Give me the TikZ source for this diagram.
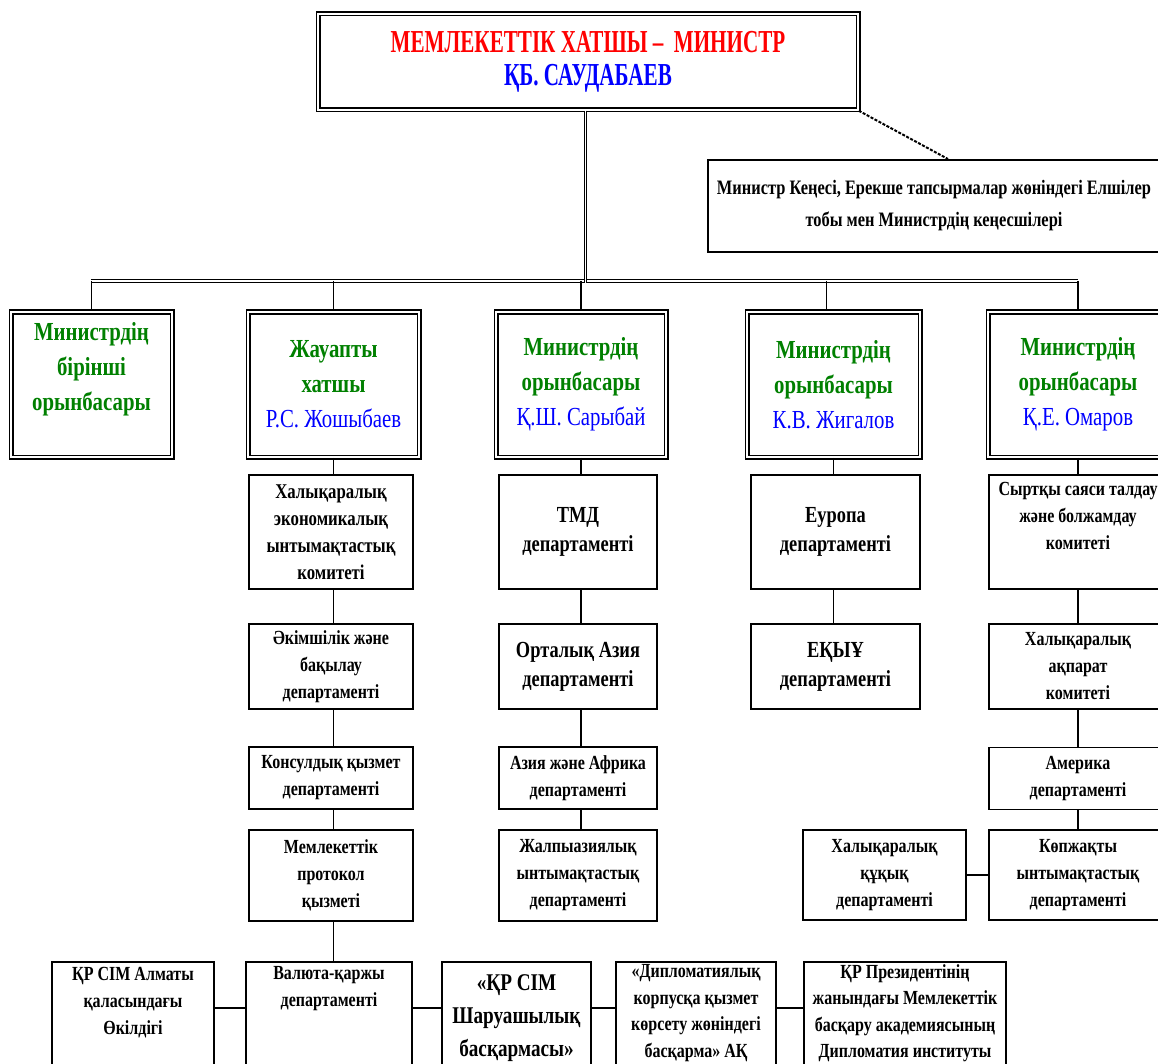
\documentclass[tikz,border=0pt]{standalone}
\usepackage{fontspec}
\setmainfont{Liberation Serif}[FakeStretch=0.8]
\newfontfamily\condfont{Liberation Serif}[FakeStretch=0.66]
\usetikzlibrary{calc}
\definecolor{tgreen}{RGB}{0,128,0}
\definecolor{tblue}{RGB}{0,0,255}
\definecolor{tred}{RGB}{255,0,0}
\begin{document}
\begin{tikzpicture}[x=1pt,y=-1pt,
  dbox/.style={draw, double, line width=1.5pt, double distance=2pt, fill=white, inner sep=0pt},
  sbox/.style={draw, line width=1.9pt, fill=white, inner sep=0pt},
  conn/.style={line width=1.9pt},
  dconn/.style={double, line width=1.4pt, double distance=1.4pt},
  trunk/.style={double, line width=1.1pt, double distance=0.8pt},
  l3/.style={align=center, font=\fontsize{20}{27}\selectfont\bfseries},
  l3big/.style={align=center, font=\fontsize{23}{29}\selectfont\bfseries},
  gtxt/.style={align=center, font=\fontsize{26}{35}\selectfont\bfseries, text=tgreen},
]
\useasboundingbox (0,0) rectangle (1158,1064);
\clip (0,0) rectangle (1158,1064);

% top
\node[dbox, minimum width=540pt, minimum height=96pt, align=center,
  font=\condfont\fontsize{32}{33}\selectfont\bfseries] (top) at (588,62)
  {\textcolor{tred}{МЕМЛЕКЕТТІК ХАТШЫ –\ \ МИНИСТР}\\\textcolor{tblue}{ҚБ. САУДАБАЕВ}};

\node[sbox, minimum width=452pt, minimum height=92pt, align=center,
  font=\fontsize{20.5}{32}\selectfont\bfseries] (kens) at (934,206)
  {Министр Кеңесі, Ерекше тапсырмалар жөніндегі Елшілер\\тобы мен Министрдің кеңесшілері};
\draw[line width=2pt, dash pattern=on 3pt off 1.5pt] (top.south east) -- ([xshift=14pt]kens.north);

% bus
\coordinate (busL) at (91,281);
\coordinate (busR) at (1078,281);
\draw[dconn] (busL) -- (busR);
\draw[trunk] ([xshift=-3pt]top.south) -- ([xshift=-3pt,yshift=-2pt]top.south |- busL);

% level 2
\node[dbox, minimum width=161pt, minimum height=145pt] (b1) at (91.5,384.5) {};
\node[gtxt] (b1t) at (91.5,369) {Министрдің\\бірінші\\орынбасары};
\node[dbox, minimum width=171pt, minimum height=145pt, gtxt] (b2) at (333.5,384.5)
  {Жауапты\\хатшы\\\textcolor{tblue}{\mdseries Р.С. Жошыбаев}};
\node[dbox, minimum width=170pt, minimum height=145pt, gtxt] (b3) at (581,384.5)
  {Министрдің\\орынбасары\\\textcolor{tblue}{\mdseries Қ.Ш. Сарыбай}};
\node[dbox, minimum width=173pt, minimum height=145pt, gtxt] (b4) at (833.5,384.5)
  {Министрдің\\орынбасары\\\textcolor{tblue}{\mdseries К.В. Жигалов}};
\node[dbox, minimum width=180pt, minimum height=145pt, gtxt] (b5) at (1078,384.5)
  {Министрдің\\орынбасары\\\textcolor{tblue}{\mdseries Қ.Е. Омаров}};

\draw[conn] (b1.north |- busL) -- (b1.north);
\draw[conn] (b2.north |- busL) -- (b2.north);
\draw[conn] (b3.north |- busL) -- (b3.north);
\draw[conn] ([xshift=-7pt]b4.north |- busL) -- ([xshift=-7pt]b4.north);
\draw[conn] (b5.north |- busL) -- (b5.north);

% column 2
\node[sbox, l3, font=\fontsize{21}{27}\selectfont\bfseries, minimum width=164pt, minimum height=114pt] (c2a) at (331,532)
  {Халықаралық\\экономикалық\\ынтымақтастық\\комитеті};
\node[sbox, l3, minimum width=164pt, minimum height=85pt] (c2b) at (331,666.5)
  {Әкімшілік және\\бақылау\\департаменті};
\node[sbox, l3, minimum width=164pt, minimum height=62pt] (c2c) at (331,778)
  {Консулдық қызмет\\департаменті};
\node[sbox, l3, minimum width=164pt, minimum height=91pt] (c2d) at (331,875.5)
  {Мемлекеттік\\протокол\\қызметі};

% column 3
\node[sbox, l3big, minimum width=158pt, minimum height=114pt] (c3a) at (578,532)
  {ТМД\\департаменті};
\node[sbox, l3big, minimum width=158pt, minimum height=85pt] (c3b) at (578,666.5)
  {Орталық Азия\\департаменті};
\node[sbox, l3, minimum width=158pt, minimum height=62pt] (c3c) at (578,778)
  {Азия және Африка\\департаменті};
\node[sbox, l3, minimum width=158pt, minimum height=91pt] (c3d) at (578,875.5)
  {Жалпыазиялық\\ынтымақтастық\\департаменті};

% column 4
\node[sbox, l3big, minimum width=169pt, minimum height=114pt] (c4a) at (835.5,532)
  {Еуропа\\департаменті};
\node[sbox, l3big, minimum width=169pt, minimum height=85pt] (c4b) at (835.5,666.5)
  {ЕҚЫҰ\\департаменті};

% column 5
\node[sbox, minimum width=178pt, minimum height=114pt] (c5a) at (1078,532) {};
\node[l3] (c5at) at (1078,516) {Сыртқы саяси талдау\\және болжамдау\\комитеті};
\node[sbox, l3, minimum width=178pt, minimum height=85pt] (c5b) at (1078,666.5)
  {Халықаралық\\ақпарат\\комитеті};
\node[sbox, l3, minimum width=178pt, minimum height=62pt] (c5c) at (1078,778.5)
  {Америка\\департаменті};
\node[sbox, l3, minimum width=178pt, minimum height=90pt] (c5d) at (1078,875)
  {Көпжақты\\ынтымақтастық\\департаменті};
\node[sbox, l3, minimum width=163pt, minimum height=90pt] (c5e) at (884.5,875)
  {Халықаралық\\құқық\\департаменті};

% vertical connectors
\draw[conn] (b2.south) -- (b2.south |- c2a.north);
\draw[conn] (c2a.south -| b2.south) -- (c2b.north -| b2.south);
\draw[conn] (c2b.south -| b2.south) -- (c2c.north -| b2.south);
\draw[conn] (c2c.south -| b2.south) -- (c2d.north -| b2.south);

\draw[conn] (b3.south) -- (b3.south |- c3a.north);
\draw[conn] (c3a.south -| b3.south) -- (c3b.north -| b3.south);
\draw[conn] (c3b.south -| b3.south) -- (c3c.north -| b3.south);
\draw[conn] (c3c.south -| b3.south) -- (c3d.north -| b3.south);

\draw[conn] (b4.south) -- (b4.south |- c4a.north);
\draw[conn] (c4a.south -| b4.south) -- (c4b.north -| b4.south);

\draw[conn] (b5.south) -- (c5a.north);
\draw[conn] (c5a.south) -- (c5b.north);
\draw[conn] (c5b.south) -- (c5c.north);
\draw[conn] (c5c.south) -- (c5d.north);
\draw[conn] (c5e.east) -- (c5d.west);

% bottom row
\node[sbox, minimum width=162pt, minimum height=140pt, anchor=north] (r1) at (133,961) {};
\node[l3, anchor=north] (r1t) at (133,964) {ҚР СІМ Алматы\\қаласындағы\\Өкілдігі};
\node[sbox, minimum width=166pt, minimum height=140pt, anchor=north] (r2) at (329,961) {};
\node[l3, anchor=north] (r2t) at (329,963) {Валюта-қаржы\\департаменті};
\node[sbox, minimum width=149pt, minimum height=140pt, anchor=north] (r3) at (516.5,961) {};
\node[anchor=north, align=center, font=\fontsize{24}{33}\selectfont\bfseries] (r3t) at (516.5,971)
  {«ҚР СІМ\\Шаруашылық\\басқармасы»};
\node[sbox, minimum width=160pt, minimum height=140pt, anchor=north] (r4) at (696,961) {};
\node[l3, anchor=north, font=\fontsize{20}{26.5}\selectfont\bfseries] (r4t) at (696,961)
  {«Дипломатиялық\\корпусқа қызмет\\көрсету жөніндегі\\басқарма» АҚ};
\node[sbox, minimum width=202pt, minimum height=140pt, anchor=north] (r5) at (905,961) {};
\node[l3, anchor=north, font=\fontsize{20}{26.5}\selectfont\bfseries] (r5t) at (905,961)
  {ҚР Президентінің\\жанындағы Мемлекеттік\\басқару академиясының\\Дипломатия институты};

\draw[conn] (c2d.south -| b2.south) -- (r2.north -| b2.south);
\coordinate (rowy) at (0,1008);
\draw[conn] (r1.east |- rowy) -- (r2.west |- rowy);
\draw[conn] (r2.east |- rowy) -- (r3.west |- rowy);
\draw[conn] (r3.east |- rowy) -- (r4.west |- rowy);
\draw[conn] (r4.east |- rowy) -- (r5.west |- rowy);
\end{tikzpicture}
\end{document}
